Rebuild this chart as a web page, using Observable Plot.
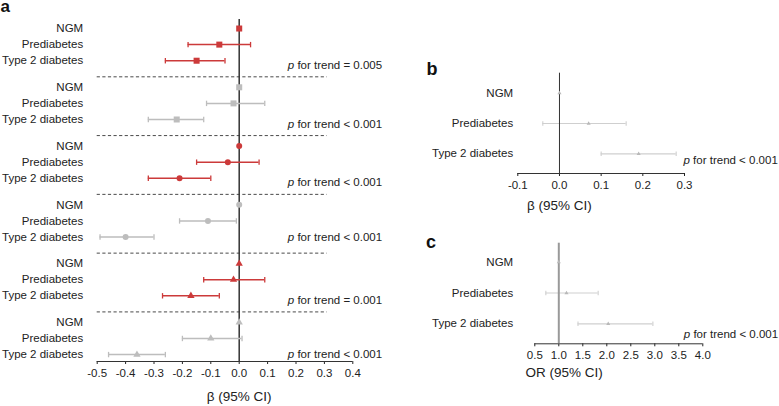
<!DOCTYPE html>
<html><head><meta charset="utf-8">
<script src="https://cdn.jsdelivr.net/npm/d3@7"></script>
<script src="https://cdn.jsdelivr.net/npm/@observablehq/plot@0.6"></script>
<style>
body{margin:0;background:#fff;}
#wrap{position:relative;width:779px;height:406px;overflow:hidden;font-family:"Liberation Sans",Arial,Helvetica,sans-serif;}
#wrap>svg{position:absolute;overflow:visible;}
</style></head><body><div id="wrap"></div>
<script>
// ---------- DATA ----------
const categories = ["NGM", "Prediabetes", "Type 2 diabetes"];

// Panel a: six models (rows: NGM, Prediabetes, Type 2 diabetes)
const aEstimate = [
  [0, -0.07, -0.15],
  [0, -0.02, -0.22],
  [0, -0.04, -0.21],
  [0, -0.11, -0.40],
  [0, -0.02, -0.17],
  [0, -0.10, -0.36]
];
const aLower = [
  [0, -0.18, -0.26],
  [0, -0.115, -0.32],
  [0, -0.15, -0.32],
  [0, -0.21, -0.49],
  [0, -0.125, -0.27],
  [0, -0.20, -0.46]
];
const aUpper = [
  [0, 0.04, -0.05],
  [0, 0.09, -0.125],
  [0, 0.07, -0.10],
  [0, -0.01, -0.30],
  [0, 0.09, -0.07],
  [0, 0.01, -0.26]
];
const aTrendP = ["= 0.005", "< 0.001", "< 0.001", "< 0.001", "= 0.001", "< 0.001"];
const aTicks = [-0.5, -0.4, -0.3, -0.2, -0.1, 0, 0.1, 0.2, 0.3, 0.4];
const aTitle = "β (95% CI)";

// Panel b
const bEstimate = [0, 0.07, 0.19];
const bLower = [0, -0.04, 0.10];
const bUpper = [0, 0.16, 0.28];
const bTrendP = "< 0.001";
const bTicks = [-0.1, 0, 0.1, 0.2, 0.3];
const bTitle = "β (95% CI)";

// Panel c
const cEstimate = [1, 1.16, 2.03];
const cLower = [1, 0.73, 1.40];
const cUpper = [1, 1.82, 2.96];
const cTrendP = "< 0.001";
const cTicks = [0.5, 1, 1.5, 2, 2.5, 3, 3.5, 4];
const cTitle = "OR (95% CI)";

const panelLetters = ["a", "b", "c"];

// ---------- STYLE ----------
const FONT = '"Liberation Sans", Arial, Helvetica, sans-serif';
const RED = "#cc3a3a", GRAY_A = "#bdbdbd", GRAY_BC = "#cfcfcf", INK = "#222";
const aPTextDy = [4.5, 4.5, 4.5, 0.5, 4.5, -0.5]; // vertical nudge of each "p for trend" label (px)
const fmt1 = d => d.toFixed(1);
const capSymbol = {draw(ctx, size) { const r = Math.sqrt(size / Math.PI); ctx.moveTo(0, -r); ctx.lineTo(0, r); }};
const wrap = document.getElementById("wrap");

function place(svg, left, top) {
  svg.style.left = left + "px";
  svg.style.top = top + "px";
  wrap.appendChild(svg);
}

// ---------- PANEL A ----------
(function () {
  const STEP = 3.65;
  const rows = aEstimate.flatMap((est, g) => est.map((e, i) => ({
    g, i, label: categories[i], est: e, lo: aLower[g][i], hi: aUpper[g][i], pos: g * STEP + i
  })));
  const groups = aTrendP.map((p, g) => ({g, p, pos: g * STEP + 2, sep: g * STEP + 3}));
  const yDomain = [-0.56, 20.68];
  const syms = ["square", "circle", "triangle"];
  const rs = [3.4, 3.0, 2.7];
  const marks = [
    Plot.ruleY(groups.slice(0, -1), {y: "sep", x1: aTicks[0], x2: 0.31, stroke: "#4a4a4a", strokeWidth: 1, strokeDasharray: "3.2,2.4"}),
    Plot.ruleX([0], {stroke: "#333", strokeWidth: 1.5}),
    Plot.ruleY([yDomain[1]], {stroke: "#333", strokeWidth: 1})
  ];
  for (let g = 0; g < aEstimate.length; g++) {
    const col = g % 2 === 0 ? RED : GRAY_A;
    const d = rows.filter(r => r.g === g);
    const w = d.filter(r => r.hi > r.lo);
    marks.push(
      Plot.ruleY(w, {y: "pos", x1: "lo", x2: "hi", stroke: col, strokeWidth: 1.5}),
      Plot.dot(w, {x: "lo", y: "pos", symbol: capSymbol, r: 2.7, stroke: col, strokeWidth: 1.3, fill: "none"}),
      Plot.dot(w, {x: "hi", y: "pos", symbol: capSymbol, r: 2.7, stroke: col, strokeWidth: 1.3, fill: "none"}),
      Plot.dot(d, {x: "est", y: "pos", symbol: syms[g >> 1], r: rs[g >> 1], fill: col, stroke: "none"})
    );
    const grp = [groups[g]];
    marks.push(
      Plot.text(grp, {y: "pos", text: () => "p", frameAnchor: "right", dx: -65, dy: aPTextDy[g], textAnchor: "start", fontStyle: "italic", fontSize: 11.5}),
      Plot.text(grp, {y: "pos", text: d => "for trend " + d.p, frameAnchor: "right", dx: -65 + 9.6, dy: aPTextDy[g], textAnchor: "start", fontSize: 11.5})
    );
  }
  marks.push(
    Plot.text(rows, {y: "pos", text: "label", frameAnchor: "left", dx: -14, textAnchor: "end", fontSize: 11.5}),
    Plot.text([aTitle], {x: 0, text: d => d, frameAnchor: "bottom", dy: 39, fontSize: 13.5})
  );
  const svg = Plot.plot({
    width: 390, height: 406,
    marginLeft: 96.7, marginRight: 37.7, marginTop: 19, marginBottom: 45,
    style: {fontFamily: FONT, fontSize: "11.5px", color: INK, background: "transparent", overflow: "visible"},
    x: {domain: [aTicks[0], aTicks[aTicks.length - 1]], ticks: aTicks, tickFormat: fmt1, tickSize: 3, tickPadding: 4, label: null},
    y: {domain: yDomain, reverse: true, axis: null},
    marks
  });
  place(svg, 0, 0);
})();

// ---------- PANELS B & C ----------
function smallPanel({est, lo, hi, ticks, title, pText, left, top, width, height, mL, mR, mT, mB, yDomain, labelRight, pDx, titleOpts, refX, refStroke, refWidth}) {
  const rows = est.map((e, i) => ({label: categories[i], est: e, lo: lo[i], hi: hi[i], pos: i}));
  const w = rows.filter(r => r.hi > r.lo);
  const last = rows[rows.length - 1];
  const marks = [
    Plot.ruleY([yDomain[1]], {stroke: "#333", strokeWidth: 1}),
    Plot.ruleY(w, {y: "pos", x1: "lo", x2: "hi", stroke: GRAY_BC, strokeWidth: 1.2}),
    Plot.dot(w, {x: "lo", y: "pos", symbol: capSymbol, r: 2.2, stroke: GRAY_BC, strokeWidth: 1.1, fill: "none"}),
    Plot.dot(w, {x: "hi", y: "pos", symbol: capSymbol, r: 2.2, stroke: GRAY_BC, strokeWidth: 1.1, fill: "none"}),
    Plot.ruleX([refX], {stroke: refStroke, strokeWidth: refWidth}),
    Plot.dot(rows, {x: "est", y: "pos", symbol: "triangle", r: 1.5, fill: "#b8b8b8", stroke: "none"}),
    Plot.text(rows, {y: "pos", text: "label", frameAnchor: "left", dx: labelRight - mL, textAnchor: "end", fontSize: 11.5}),
    Plot.text([last], {y: "pos", text: () => "p", frameAnchor: "right", dx: pDx.dx, dy: pDx.dy, textAnchor: "start", fontStyle: "italic", fontSize: 11.5}),
    Plot.text([last], {y: "pos", text: () => "for trend " + pText, frameAnchor: "right", dx: pDx.dx + 9.6, dy: pDx.dy, textAnchor: "start", fontSize: 11.5}),
    Plot.text([title], {text: d => d, fontSize: 13.5, ...titleOpts})
  ];
  const svg = Plot.plot({
    width, height, marginLeft: mL, marginRight: mR, marginTop: mT, marginBottom: mB,
    style: {fontFamily: FONT, fontSize: "11.5px", color: INK, background: "transparent", overflow: "visible"},
    x: {domain: [ticks[0], ticks[ticks.length - 1]], ticks, tickFormat: fmt1, tickSize: 3, tickPadding: 4, label: null},
    y: {domain: yDomain, reverse: true, axis: null},
    marks
  });
  place(svg, left, top);
}

smallPanel({
  est: bEstimate, lo: bLower, hi: bUpper, ticks: bTicks, title: bTitle, pText: bTrendP,
  left: 400, top: 60, width: 379, height: 170, mL: 117.3, mR: 95, mT: 12.7, mB: 57,
  yDomain: [-0.66, 2.65], labelRight: 112.7, pDx: {dx: -1, dy: 6.7},
  titleOpts: {x: 0, frameAnchor: "bottom", dy: 36},
  refX: 0, refStroke: "#333", refWidth: 1
});

smallPanel({
  est: cEstimate, lo: cLower, hi: cUpper, ticks: cTicks, title: cTitle, pText: cTrendP,
  left: 400, top: 230, width: 379, height: 176, mL: 134.3, mR: 76.7, mT: 12.7, mB: 62.7,
  yDomain: [-0.617, 2.65], labelRight: 112.7, pDx: {dx: -19, dy: 10.7},
  titleOpts: {frameAnchor: "bottom-left", dx: -9.3, dy: 33.5, textAnchor: "start"},
  refX: 1, refStroke: "#999", refWidth: 2
});

// ---------- PANEL LETTERS ----------
(function () {
  const pos = [[0.5, 12], [426.5, 75], [426, 247.5]];
  const svg = d3.create("svg").attr("width", 779).attr("height", 406).style("left", "0px").style("top", "0px").style("pointer-events", "none");
  svg.selectAll("text").data(panelLetters).join("text")
    .attr("x", (d, i) => pos[i][0]).attr("y", (d, i) => pos[i][1])
    .attr("font-family", FONT).attr("font-weight", "bold").attr("font-size", (d, i) => i === 0 ? 17 : 18).attr("fill", "#111")
    .text(d => d);
  wrap.appendChild(svg.node());
})();
</script></body></html>
